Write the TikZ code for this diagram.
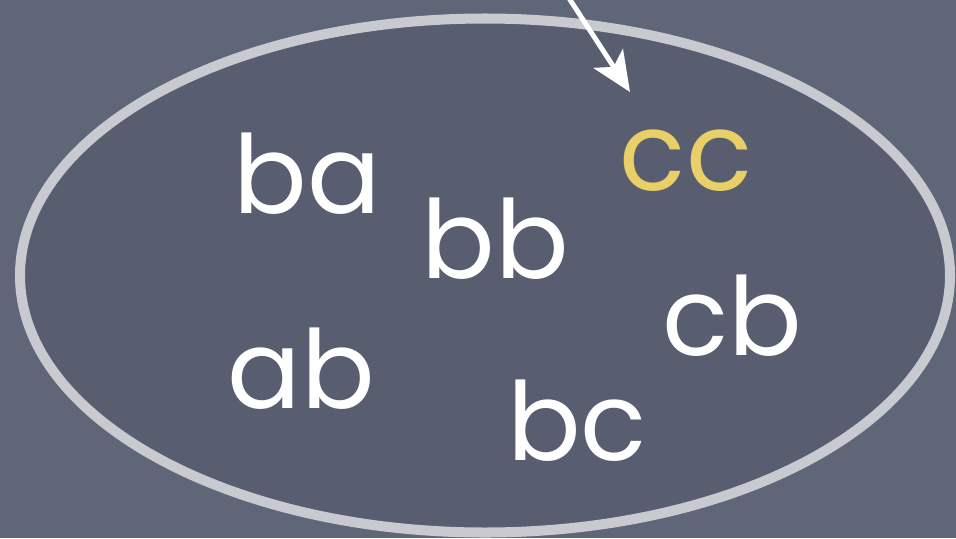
\documentclass[tikz,border=0pt]{standalone}
\usepackage{fontspec}
\setmainfont{Poppins}
\usetikzlibrary{arrows.meta}
\definecolor{slate}{RGB}{95,102,119}
\definecolor{slateinner}{RGB}{88,94,112}
\definecolor{ringgray}{RGB}{200,202,208}
\definecolor{chalkyellow}{RGB}{232,207,104}
\tikzset{
  ring/.style={draw=ringgray, line width=5.7pt, fill=slateinner},
  word/.style={text=white, anchor=base, font=\fontsize{62}{70}\selectfont, inner sep=0pt},
  hiword/.style={word, text=chalkyellow},
  pointer/.style={white, line width=2.8pt, -{Stealth[length=8mm,width=7mm,inset=2mm]}},
}
\begin{document}
\begin{tikzpicture}[x=0.02cm,y=-0.02cm]
  \fill[slate] (0,0) rectangle (956,538);
  \path[use as bounding box] (0,0) rectangle (956,538);

  \draw[ring] (485,275.5) ellipse [x radius=465, y radius=257];

  \node[word] (ba) at (307,213) {ba};
  \node[word] (bb) at (495,278) {bb};
  \node[hiword] (cc) at (686,190) {cc};
  \node[word] (cb) at (732,355) {cb};
  \node[word] (ab) at (301,408) {ab};
  \node[word] (bc) at (577,460) {bc};

  \coordinate (from) at (565,-8);
  \coordinate (tip) at (630,92);
  \draw[pointer] (from) -- (tip);
\end{tikzpicture}
\end{document}
